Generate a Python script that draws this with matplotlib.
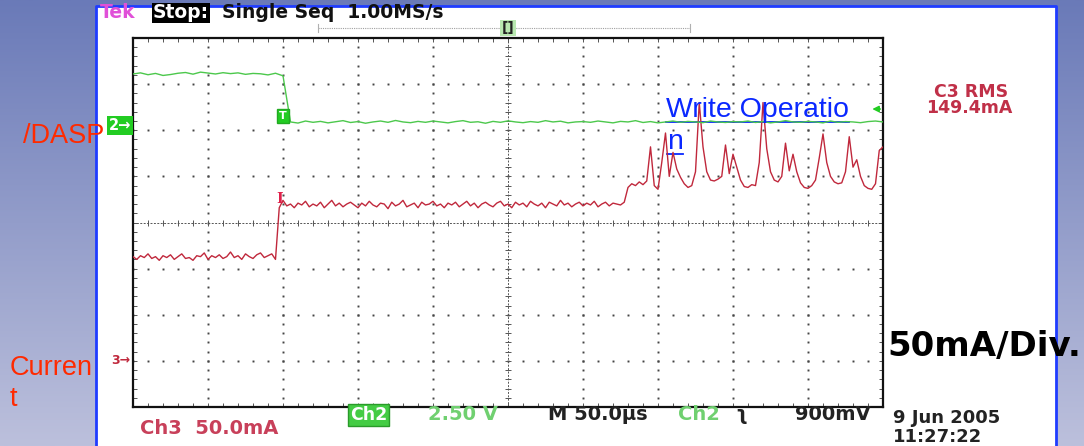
import numpy as np
import matplotlib
matplotlib.use("Agg")
import matplotlib.pyplot as plt
from matplotlib.colors import LinearSegmentedColormap
from matplotlib.patches import Rectangle
from matplotlib.lines import Line2D

W, H = 1084, 446

# scope timebase: 50 us/div, trigger 2 div from the left edge
t_start, t_stop = -100, 400
us_per_div = 50

# Ch3 current probe (mA), one sample every 2.5 us starting at t_start
ch3_step = 2.5
ch3_ma = [
    113, 110, 114, 112, 116, 111, 113, 109, 114, 112, 115, 110, 113, 116, 111, 112, 109, 114, 113, 117,
    110, 114, 112, 115, 111, 113, 118, 112, 114, 110, 116, 113, 111, 115, 117, 112, 114, 116, 110, 166,
    174, 168, 170, 166, 171, 169, 173, 167, 170, 168, 172, 166, 170, 174, 168, 171, 167, 170, 172, 169,
    166, 171, 168, 173, 169, 167, 171, 170, 165, 172, 168, 170, 174, 167, 169, 171, 166, 172, 169, 170,
    173, 168, 170, 166, 171, 169, 172, 167, 170, 173, 168, 171, 166, 170, 172, 169, 167, 171, 173, 168,
    170, 166, 172, 169, 171, 167, 173, 170, 168, 171, 166, 172, 170, 168, 174, 169, 171, 167, 170, 172,
    168, 171, 169, 173, 167, 170, 172, 168, 171, 170, 169, 172, 188, 192, 190, 194, 191, 195, 232, 190,
    186, 215, 247, 200, 226, 208, 199, 192, 188, 190, 205, 280, 232, 205, 196, 195, 197, 200, 234, 203,
    224, 210, 196, 189, 188, 191, 190, 215, 280, 230, 205, 196, 194, 200, 236, 206, 224, 205, 193, 188,
    187, 190, 196, 220, 246, 215, 200, 194, 192, 193, 205, 243, 210, 218, 200, 190, 187, 186, 192, 228,
    232,
]
ch3_scale = 50.0    # mA/div
ch3_ground = -3.0   # div

# Ch2 /DASP voltage (V), one sample every 5 us starting at t_start
ch2_step = 5.0
ch2_volts = [
    2.80, 2.86, 2.76, 2.83, 2.72, 2.77, 2.84, 2.88, 2.79, 2.90, 2.85, 2.80, 2.87, 2.82, 2.86, 2.78, 2.83, 2.81, 2.75, 2.84,
    2.70,
    0.20, 0.14, 0.25, 0.18, 0.23, 0.15, 0.21, 0.27, 0.17, 0.22, 0.13, 0.20, 0.25, 0.18, 0.28, 0.20, 0.16, 0.23, 0.18, 0.25,
    0.20, 0.15, 0.22, 0.27, 0.18, 0.21, 0.13, 0.23, 0.18, 0.26, 0.20, 0.16, 0.22, 0.18, 0.27, 0.20, 0.24, 0.15, 0.20, 0.22,
    0.18, 0.25, 0.20, 0.15, 0.23, 0.20, 0.27, 0.17, 0.22, 0.15, 0.20, 0.25, 0.18, 0.23, 0.20, 0.16, 0.25, 0.20, 0.17, 0.22,
    0.20, 0.25, 0.17, 0.22, 0.15, 0.20, 0.27, 0.20, 0.18, 0.23, 0.20, 0.15, 0.25, 0.18, 0.22, 0.20, 0.16, 0.22, 0.25, 0.20,
]
ch2_scale = 2.5     # V/div
ch2_ground = 2.1    # div
trig_level_v = 0.9

RED = "#c0283c"
GREEN = "#4cc84c"


def fx(x):
    return x / W


def fy(y):
    return 1 - y / H


fig = plt.figure(figsize=(W / 100, H / 100), dpi=100)

# slide background + white screenshot panel
bg = fig.add_axes([0, 0, 1, 1], zorder=0)
grad = np.linspace(0, 1, 256).reshape(-1, 1)
cmap = LinearSegmentedColormap.from_list("bg", ["#6a7ab8", "#bcc0dc"])
bg.imshow(grad, cmap=cmap, aspect="auto", extent=[0, 1, 0, 1], origin="upper")
bg.add_patch(Rectangle((fx(96), 0), fx(1056) - fx(96), fy(6), facecolor="white", edgecolor="none"))
bg.plot([fx(96), fx(96), fx(1056), fx(1056)], [0, fy(6), fy(6), 0], color="#1f3cff", lw=2)
# record-length bar at the top
bg.plot([fx(318), fx(690)], [fy(28), fy(28)], color="#a0a0a0", lw=0.8, ls=(0, (1, 1)))
bg.plot([fx(318), fx(318)], [fy(24), fy(32)], color="#b0b0b0", lw=0.8)
bg.plot([fx(690), fx(690)], [fy(24), fy(32)], color="#b0b0b0", lw=0.8)
bg.text(fx(508), fy(28), "[]", ha="center", va="center", fontsize=10, weight="bold", color="#222",
        bbox=dict(boxstyle="square,pad=0.1", fc="#b8e8b0", ec="none"))
bg.set_xlim(0, 1)
bg.set_ylim(0, 1)
bg.axis("off")

# graticule
ax = fig.add_axes([fx(133), fy(407), (883 - 133) / W, (407 - 38) / H], zorder=2)
ax.set_facecolor("none")
ax.set_xlim(t_start, t_stop)
ax.set_ylim(-4, 4)
for s in ax.spines.values():
    s.set_linewidth(1.6)
    s.set_color("#111")
ax.set_xticks(np.arange(t_start, t_stop + 1, 10))
ax.set_yticks(np.arange(-4, 4.01, 0.2))
ax.tick_params(direction="in", length=3, width=0.7, color="#555", top=True, right=True,
               labelbottom=False, labelleft=False)

ys = np.arange(-4, 4.01, 0.2)
xs = np.arange(t_start, t_stop + 1, 10)
center_t = (t_start + t_stop) / 2
for xv in np.arange(t_start + us_per_div, t_stop, us_per_div):
    if xv == center_t:
        continue
    ax.plot(np.full(len(ys), xv), ys, ls="none", marker="s", ms=1.4, mew=0, color="#444", zorder=1)
for yv in range(-3, 4):
    if yv == 0:
        continue
    ax.plot(xs, np.full(len(xs), yv), ls="none", marker="s", ms=1.4, mew=0, color="#444", zorder=1)
ax.axhline(0, color="#555", lw=0.7, ls=(0, (2, 1.5)), zorder=1)
ax.axvline(center_t, color="#555", lw=0.7, ls=(0, (2, 1.5)), zorder=1)
ax.plot(xs, np.zeros(len(xs)), ls="none", marker="|", ms=5, mew=0.7, color="#555", zorder=1)
ax.plot(np.full(len(ys), center_t), ys, ls="none", marker="_", ms=5, mew=0.7, color="#555", zorder=1)

# traces
t3 = t_start + ch3_step * np.arange(len(ch3_ma))
ax.plot(t3, np.array(ch3_ma) / ch3_scale + ch3_ground, color=RED, lw=1.0, zorder=4)
t2 = t_start + ch2_step * np.arange(len(ch2_volts))
ax.plot(t2, np.array(ch2_volts) / ch2_scale + ch2_ground, color=GREEN, lw=1.0, zorder=4)

# channel ground markers, trigger markers
ax.text(t_start - 1, ch2_ground, "2\u2192", ha="right", va="center", color="white", fontsize=10.5,
        weight="bold", clip_on=False, bbox=dict(boxstyle="square,pad=0.12", fc="#22cc22", ec="none"))
ax.text(t_start - 2, ch3_ground, "3\u2192", ha="right", va="center", color=RED, fontsize=9,
        weight="bold", clip_on=False)
ax.text(0, 2.31, "T", ha="center", va="center", color="white", fontsize=8, weight="bold",
        bbox=dict(boxstyle="square,pad=0.2", fc="#22cc22", ec="#22aa22"), zorder=5)
ax.text(-2, 0.52, "I", ha="center", va="center", color="#e0204a", fontsize=10, weight="bold",
        family="DejaVu Serif", zorder=5)
trig_div = trig_level_v / ch2_scale + ch2_ground
ax.annotate("", xy=(t_stop - 9, trig_div), xytext=(t_stop, trig_div),
            arrowprops=dict(arrowstyle="-|>", color="#22cc22", lw=1.2, mutation_scale=9))

# scope header
hdr = dict(fontsize=13.5, weight="bold", va="center")
fig.text(fx(100), fy(13), "Tek", color="#e050d8", **hdr)
fig.text(fx(153), fy(13), "Stop:", color="white",
         bbox=dict(boxstyle="square,pad=0.05", fc="black", ec="none"), **hdr)
fig.text(fx(222), fy(13), "Single Seq  1.00MS/s", color="#111", **hdr)

# measurement readout
fig.text(fx(971), fy(92), "C3 RMS", color="#c03048", fontsize=12.5, weight="bold", ha="center", va="center")
fig.text(fx(969), fy(108), "149.4mA", color="#c03048", fontsize=12.5, weight="bold", ha="center", va="center")

# bottom status line
st = dict(fontsize=14, weight="bold", va="center")
fig.text(fx(140), fy(428), "Ch3  50.0mA", color="#c8405a", **st)
fig.text(fx(350), fy(415), "Ch2", color="white", fontsize=12.5, weight="bold", va="center",
         bbox=dict(boxstyle="square,pad=0.1", fc="#44cc44", ec="#2a9a2a"))
fig.text(fx(428), fy(415), "2.50 V", color="#70d070", **st)
fig.text(fx(548), fy(415), "M 50.0\u00b5s", color="#222", **st)
fig.text(fx(678), fy(415), "Ch2", color="#70d070", **st)
fig.text(fx(735), fy(415), "\u0285", color="#222", **st)
fig.text(fx(795), fy(415), "900mV", color="#222", **st)
fig.text(fx(893), fy(418), "9 Jun 2005", color="#222", fontsize=13, weight="bold", va="center")
fig.text(fx(893), fy(437), "11:27:22", color="#222", fontsize=13, weight="bold", va="center")

# slide annotations
lab = dict(family="Liberation Sans", fontsize=19.5, va="baseline")
w1 = fig.text(fx(666), fy(117), "Write Operatio", color="#0a28ff", fontsize=20.5,
              family="Liberation Sans", va="baseline")
w2 = fig.text(fx(667), fy(149), "n", color="#0a28ff", fontsize=20.5,
              family="Liberation Sans", va="baseline")
fig.text(fx(23), fy(143), "/DASP", color="#ff2a00", **lab)
fig.text(fx(10), fy(375), "Curren", color="#ff2a00", **lab)
fig.text(fx(10), fy(406), "t", color="#ff2a00", **lab)
fig.text(fx(887), fy(356), "50mA/Div.", color="black", fontsize=24.5, weight="bold", va="baseline")

fig.canvas.draw()
for t, base in ((w1, 117), (w2, 149)):
    bb = t.get_window_extent()
    fig.add_artist(Line2D([bb.x0 / W, bb.x1 / W], [fy(base + 4.5)] * 2, color="#0a28ff", lw=1.3))

fig.savefig("out.png", dpi=100)
